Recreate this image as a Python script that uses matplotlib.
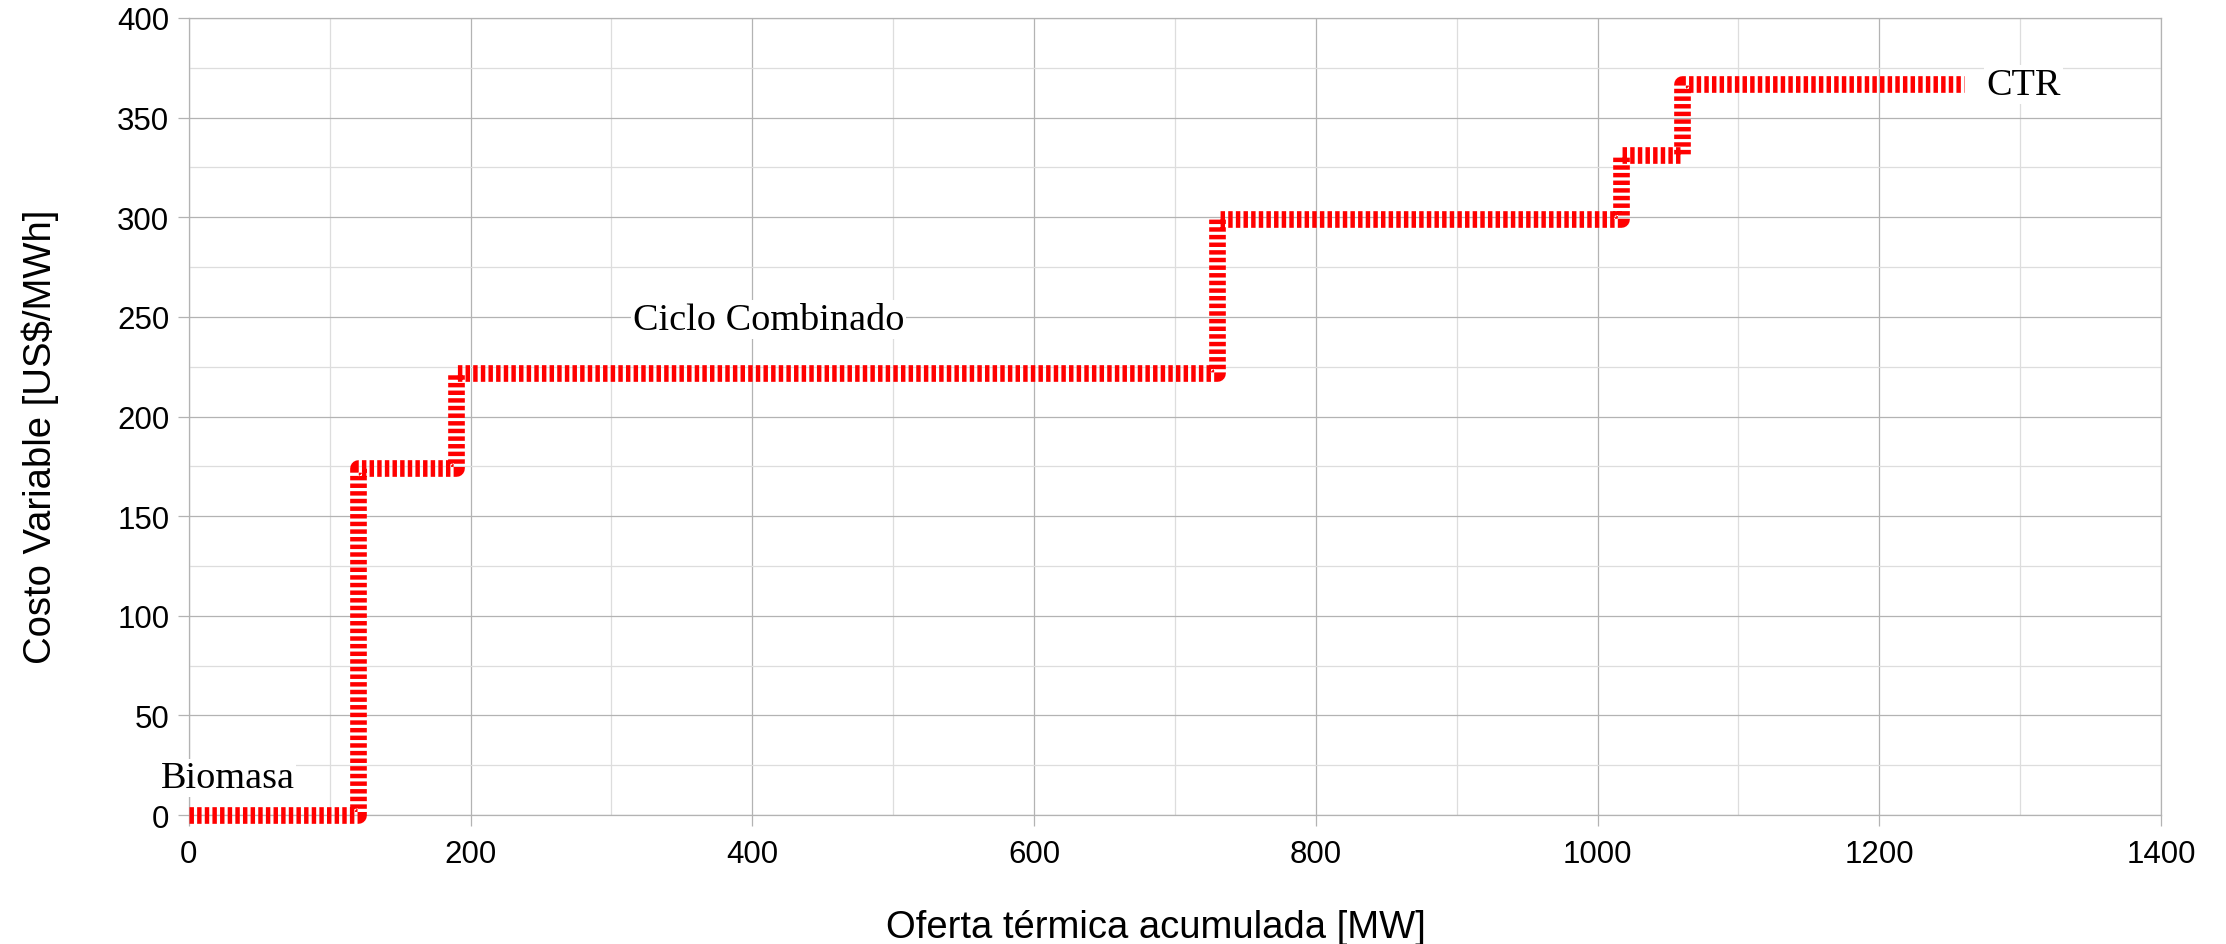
import matplotlib
matplotlib.use("Agg")
import matplotlib.pyplot as plt
from matplotlib.ticker import MultipleLocator

# Oferta térmica acumulada [MW] y costo variable [US$/MWh] (curva escalonada)
oferta = [0, 120, 120, 190, 190, 730, 730, 1017, 1017, 1060, 1060, 1260]
costo = [0, 0, 174, 174, 222, 222, 299, 299, 331, 331, 367, 367]

# etiquetas de tecnologia: texto, x, y
etiquetas = ["Biomasa", "Ciclo Combinado", "CTR"]
etiqueta_x = [-20, 315, 1276]
etiqueta_y = [14, 244, 362]

plt.rcParams['font.family'] = ['Liberation Sans', 'DejaVu Sans']
plt.rcParams['lines.scale_dashes'] = False

fig = plt.figure(figsize=(22.26, 9.45), dpi=100)
ax = fig.add_axes([0.0848, 0.1365, 0.886, 0.8434])

gris = '#b3b3b3'
ax.plot(oferta, costo, color='red', linewidth=12, dashes=(3.2, 2.3),
        solid_capstyle='butt', dash_capstyle='butt', zorder=4, clip_on=False)

ax.set_xlim(0, 1400)
ax.set_ylim(0, 400)
ax.xaxis.set_major_locator(MultipleLocator(200))
ax.xaxis.set_minor_locator(MultipleLocator(100))
ax.yaxis.set_major_locator(MultipleLocator(50))
ax.yaxis.set_minor_locator(MultipleLocator(25))
ax.set_axisbelow(True)
ax.grid(which='major', color=gris, linewidth=0.9)
ax.grid(which='minor', color='#dddddd', linewidth=0.9)
ax.tick_params(which='major', direction='out', length=8, width=0.9, color=gris,
               labelsize=22.5, pad=6)
ax.tick_params(axis='x', which='major', pad=9)
ax.tick_params(which='minor', length=0)
for s in ax.spines.values():
    s.set_color(gris)
    s.set_linewidth(0.9)

for txt, x, y in zip(etiquetas, etiqueta_x, etiqueta_y):
    ax.text(x, y, txt, family='Liberation Serif', fontsize=27.5, va='baseline',
            ha='left', zorder=3,
            bbox=dict(boxstyle='square,pad=0.05', facecolor='white', edgecolor='none'))

ax.set_xlabel('Oferta térmica acumulada [MW]', fontsize=27.5)
ax.set_ylabel('Costo Variable [US$/MWh]', fontsize=27.5)
ax.xaxis.label.set_verticalalignment('baseline')
ax.xaxis.set_label_coords(0.4904, -0.1536)
ax.yaxis.label.set_verticalalignment('baseline')
ax.yaxis.set_label_coords(-0.0699, 0.4755)

fig.savefig('out.png', dpi=100)
